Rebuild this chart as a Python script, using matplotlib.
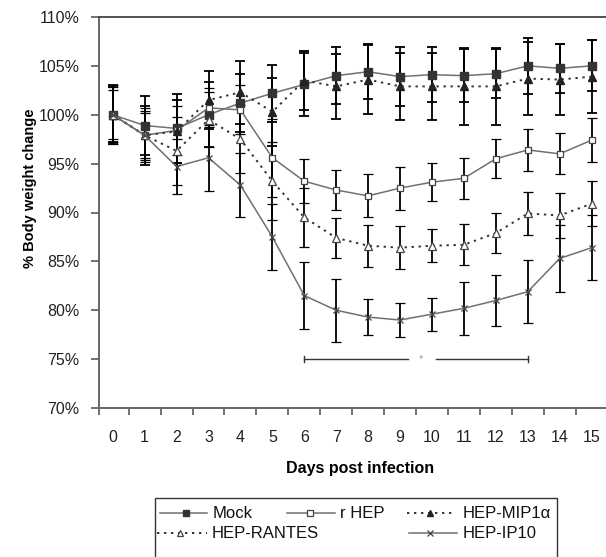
import matplotlib.pyplot as plt
from matplotlib.lines import Line2D
from matplotlib.patches import Rectangle
import numpy as np

plt.rcParams['font.family'] = ['Liberation Sans', 'DejaVu Sans']

# ---------------- data ----------------
days = list(range(16))
day_labels = [str(d) for d in days]

mock = [100, 98.9, 98.6, 100.0, 101.2, 102.2, 103.1, 104.0, 104.4, 103.9, 104.1, 104.0, 104.2, 105.0, 104.75, 105.0]
mock_err = [3.0, 3.0, 3.5, 3.3, 3.0, 2.9, 3.2, 2.9, 2.8, 3.0, 2.8, 2.7, 2.5, 2.9, 2.5, 2.6]

rhep = [100, 97.9, 98.4, 100.7, 100.5, 95.6, 93.2, 92.3, 91.7, 92.5, 93.1, 93.5, 95.5, 96.4, 96.0, 97.4]
rhep_err = [2.5, 2.3, 2.5, 2.0, 2.5, 4.0, 2.25, 2.0, 2.2, 2.2, 1.95, 2.1, 2.0, 2.15, 2.1, 2.25]

mip = [100, 97.9, 98.3, 101.5, 102.3, 100.3, 103.5, 102.9, 103.6, 102.9, 102.9, 102.9, 102.9, 103.7, 103.6, 103.9]
mip_err = [2.8, 3.0, 3.2, 3.0, 3.2, 3.5, 3.0, 3.3, 3.5, 3.4, 3.4, 3.9, 3.9, 3.7, 3.6, 3.7]

rantes = [100, 97.9, 96.3, 99.5, 97.5, 93.2, 89.5, 87.4, 86.6, 86.4, 86.6, 86.7, 87.9, 89.9, 89.7, 90.9]
rantes_err = [2.8, 2.5, 3.5, 2.8, 3.5, 4.0, 3.0, 2.05, 2.15, 2.2, 1.7, 2.1, 2.0, 2.2, 2.3, 2.3]

ip10 = [100, 97.9, 94.7, 95.6, 92.8, 87.5, 81.5, 80.0, 79.3, 79.0, 79.6, 80.2, 81.0, 81.9, 85.3, 86.4]
ip10_err = [3.0, 2.75, 2.8, 3.4, 3.3, 3.4, 3.45, 3.2, 1.8, 1.7, 1.7, 2.7, 2.65, 3.2, 3.4, 3.3]

# significance bracket (days) and its level
sig_start, sig_end, sig_level = 6, 13, 75

yticks = list(range(70, 111, 5))

# ---------------- styles ----------------
dotted = (0, (1.2, 2.4))
styles = {
    'Mock': dict(color='#707070', ls='-', lw=1.1, marker='s', ms=6, mfc='#333333', mec='#333333'),
    'r HEP': dict(color='#707070', ls='-', lw=1.1, marker='s', ms=5, mfc='white', mec='#444444', mew=0.9),
    'HEP-MIP1\u03b1': dict(color='#333333', ls=dotted, lw=1.4, marker='^', ms=6, mfc='#222222', mec='#222222'),
    'HEP-RANTES': dict(color='#333333', ls=dotted, lw=1.4, marker='^', ms=6, mfc='white', mec='#444444', mew=0.9),
    'HEP-IP10': dict(color='#707070', ls='-', lw=1.1, marker='x', ms=5, mec='#444444', mew=0.9),
}
series = [
    ('Mock', mock, mock_err),
    ('r HEP', rhep, rhep_err),
    ('HEP-MIP1\u03b1', mip, mip_err),
    ('HEP-RANTES', rantes, rantes_err),
    ('HEP-IP10', ip10, ip10_err),
]

W, H = 606, 557
fig = plt.figure(figsize=(W / 100, H / 100), dpi=100)
ax = fig.add_axes([99 / W, 1 - 408 / H, (W - 99) / W, (408 - 17) / H])

for name, vals, err in series:
    ax.errorbar(days, vals, yerr=err, ecolor='black', elinewidth=1.3,
                capsize=3.5, capthick=1.3, **styles[name])

# significance bracket with asterisk
ax.plot([sig_start, 9.25], [sig_level, sig_level], color='#333333', lw=1)
ax.plot([10.12, sig_end], [sig_level, sig_level], color='#333333', lw=1)
for xe in (sig_start, sig_end):
    ax.plot([xe, xe], [sig_level - 0.3, sig_level + 0.3], color='#333333', lw=1)
ax.text(9.65, sig_level, '*', color='#999999', fontsize=8, ha='center', va='center')

# axes
x_lo = -0.43
ax.set_xlim(x_lo, 15.45)
ax.set_ylim(70, 110)
ax.set_yticks(yticks)
ax.set_yticklabels([f'{v}%' for v in yticks])
ax.set_xticks(days)
ax.set_xticklabels(day_labels)
ax.set_xticks(np.r_[x_lo, np.arange(0.5, 15, 1)], minor=True)
ax.tick_params(axis='x', which='major', length=0, pad=16, labelsize=11.5, labelcolor='#222222')
ax.tick_params(axis='x', which='minor', length=5, width=1.3, color='#666666', direction='out')
ax.tick_params(axis='y', length=6, width=1.3, color='#666666', direction='out', pad=8,
               labelsize=11.5, labelcolor='#222222')

ax.spines['right'].set_visible(False)
for s in ('left', 'bottom'):
    ax.spines[s].set_color('#666666')
    ax.spines[s].set_linewidth(1.4)
ax.spines['top'].set_color('#444444')
ax.spines['top'].set_linewidth(1.3)

fig.text(30 / W, 1 - 188 / H, '% Body weight change', rotation=90, ha='center', va='center',
         fontsize=10.5, fontweight='bold')
fig.text(360 / W, 1 - 468 / H, 'Days post infection', ha='center', va='center',
         fontsize=11.5, fontweight='bold')


# ---------------- legend (drawn by hand, Excel style) ----------------
def fx(px):
    return px / W


def fy(py):
    return 1 - py / H


fig.add_artist(Rectangle((fx(155), fy(575)), fx(557) - fx(155), fy(498) - fy(575),
                         transform=fig.transFigure, fill=False, ec='#333333', lw=1))

legend_layout = [
    ('Mock', 160, 207, 186, 213, 513),
    ('r HEP', 287, 335, 310, 340, 513),
    ('HEP-MIP1\u03b1', 407, 455, 430, 463, 513),
    ('HEP-RANTES', 157, 207, 180, 212, 533),
    ('HEP-IP10', 409, 457, 430, 463, 533),
]
for name, x0, x1, xm, xt, yy in legend_layout:
    st = dict(styles[name])
    ms = st.pop('ms') * 0.8
    marker = st.pop('marker')
    mfc = st.pop('mfc', None)
    mec = st.pop('mec')
    mew = st.pop('mew', 1.0)
    fig.add_artist(Line2D([fx(x0), fx(x1)], [fy(yy), fy(yy)], transform=fig.transFigure, **st))
    fig.add_artist(Line2D([fx(xm)], [fy(yy)], transform=fig.transFigure, ls='none', marker=marker,
                          ms=ms, mfc=mfc, mec=mec, mew=mew))
    fig.text(fx(xt), fy(yy), name, ha='left', va='center', fontsize=12, color='#111111')

fig.savefig('out.png', dpi=100)
